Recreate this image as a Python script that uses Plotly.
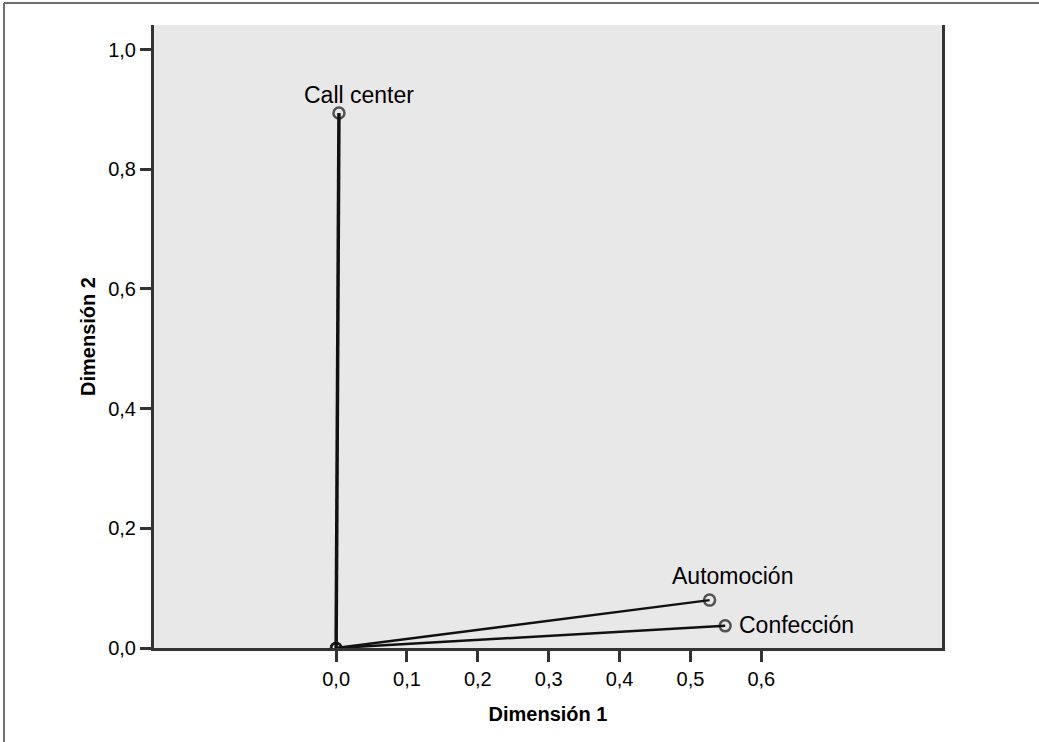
import plotly.graph_objects as go

categories = ["Call center", "Automoción", "Confección"]
dim1 = [0.004, 0.527, 0.549]
dim2 = [0.894, 0.080, 0.037]
x_ticks = [0.0, 0.1, 0.2, 0.3, 0.4, 0.5, 0.6]
y_ticks = [0.0, 0.2, 0.4, 0.6, 0.8, 1.0]
label_shift = {"Call center": (20, 18, "center"),
               "Automoción": (23, 24, "center"),
               "Confección": (12, 1, "left")}
line_widths = [3.5, 2.5, 2.5]

FONT = "Liberation Sans, Arial, sans-serif"
DARK = "#111111"

fig = go.Figure()
for name, x, y, w in zip(categories, dim1, dim2, line_widths):
    fig.add_trace(go.Scatter(
        x=[0, x], y=[0, y], mode="lines+markers",
        line=dict(color=DARK, width=w),
        marker=dict(symbol="circle-open", size=[10, 11], color=DARK,
                    line=dict(width=2.5, color="#2a2a2a")),
        showlegend=False, hoverinfo="skip"))

for name, x, y in zip(categories, dim1, dim2):
    dx, dy, anchor = label_shift[name]
    fig.add_annotation(x=x, y=y, text=name, showarrow=False,
                       xanchor=anchor, yanchor="middle",
                       xshift=dx, yshift=dy,
                       font=dict(family=FONT, size=23, color="black"))

# outer frame (left and top edges)
L, R, T, B = 154, 97, 25, 94
W, H = 1039, 742
pw, ph = W - L - R, H - T - B
fx = (4 - L) / pw
fy = (H - B - 3) / ph
fig.add_shape(type="line", xref="paper", yref="paper", layer="above",
              x0=fx, x1=fx, y0=-(B + 20) / ph, y1=fy,
              line=dict(color="#6e6e6e", width=2))
fig.add_shape(type="line", xref="paper", yref="paper", layer="above",
              x0=fx, x1=(W + 20 - L) / pw, y0=fy, y1=fy,
              line=dict(color="#6e6e6e", width=2))

fig.update_layout(
    width=W, height=H,
    margin=dict(l=L, r=R, t=T, b=B, pad=0),
    paper_bgcolor="white", plot_bgcolor="#e8e8e8",
    separators=",.",
    font=dict(family=FONT, color="black"),
    xaxis=dict(range=[-0.257, 0.855], tickvals=x_ticks, tickformat=".1f",
               showgrid=False, zeroline=False, showline=True,
               linecolor="#333333", linewidth=3, ticks="outside",
               ticklen=11, tickwidth=3, tickcolor="#333333",
               tickfont=dict(family=FONT, size=20, color="black"),
               title=dict(text="<b>Dimensión 1</b>", standoff=18,
                          font=dict(family=FONT, size=20, color="black"))),
    yaxis=dict(range=[0, 1.041], tickvals=y_ticks, tickformat=".1f",
               showgrid=False, zeroline=False, showline=True, mirror=True,
               linecolor="#333333", linewidth=3, ticks="outside",
               ticklen=11, tickwidth=3, tickcolor="#333333",
               tickfont=dict(family=FONT, size=20, color="black"),
               title=dict(text="<b>Dimensión 2</b>", standoff=8,
                          font=dict(family=FONT, size=20, color="black"))),
)

fig.write_html("out.html", config={"displayModeBar": False},
               post_script="document.body.style.margin='0';")
